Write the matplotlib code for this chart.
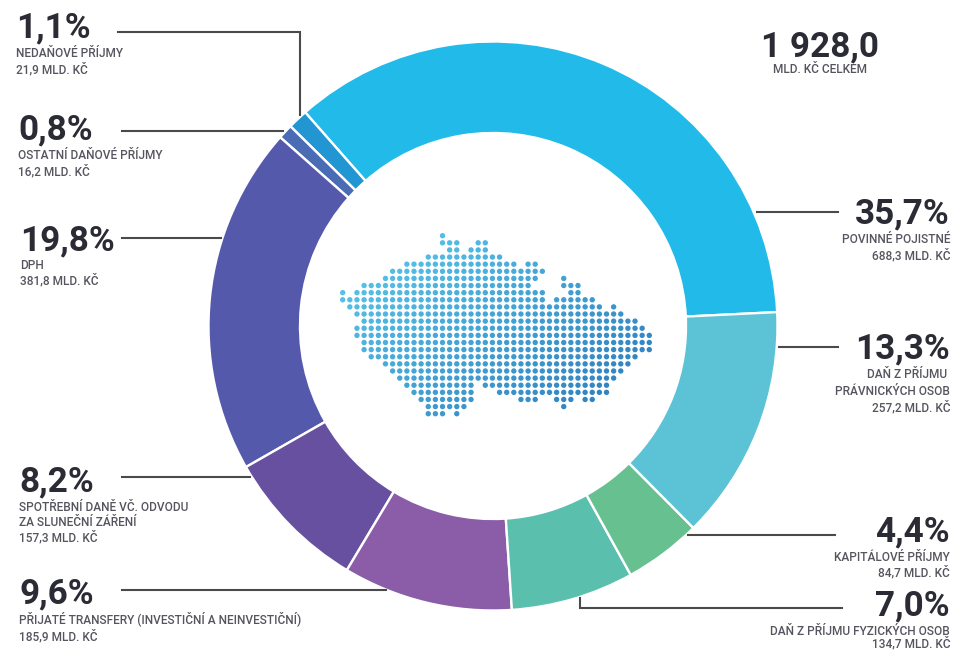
import matplotlib
matplotlib.use("Agg")
import matplotlib.pyplot as plt
import numpy as np

plt.rcParams['font.family'] = ['Roboto', 'DejaVu Sans']

W, H = 955, 650

# Data, counter-clockwise from the right-hand end of the largest slice
names = ["POVINNÉ POJISTNÉ", "NEDAŇOVÉ PŘÍJMY", "OSTATNÍ DAŇOVÉ PŘÍJMY", "DPH",
         "SPOTŘEBNÍ DANĚ VČ. ODVODU\nZA SLUNEČNÍ ZÁŘENÍ",
         "PŘIJATÉ TRANSFERY (INVESTIČNÍ A NEINVESTIČNÍ)",
         "DAŇ Z PŘÍJMU FYZICKÝCH OSOB", "KAPITÁLOVÉ PŘÍJMY",
         "DAŇ Z PŘÍJMU \nPRÁVNICKÝCH OSOB"]
values = [688.3, 21.9, 16.2, 381.8, 157.3, 185.9, 134.7, 84.7, 257.2]
percents = ["35,7%", "1,1%", "0,8%", "19,8%", "8,2%", "9,6%", "7,0%", "4,4%", "13,3%"]
amounts = ["688,3 MLD. KČ", "21,9 MLD. KČ", "16,2 MLD. KČ", "381,8 MLD. KČ", "157,3 MLD. KČ",
           "185,9 MLD. KČ", "134,7 MLD. KČ", "84,7 MLD. KČ", "257,2 MLD. KČ"]
colors = ["#22bbe9", "#2196d2", "#4a6cb5", "#5559ab", "#67509f",
          "#8b5da8", "#5bbfae", "#66c08f", "#5cc2d6"]

# Map of dots: for each row, the column spans that hold a dot
map_rows = [
    [(14, 14)], [(14, 16), (19, 20)], [(15, 16), (18, 20)], [(12, 22)],
    [(9, 24), (26, 27)], [(7, 28)], [(6, 27), (31, 31)], [(3, 26), (31, 33)],
    [(0, 0), (2, 28), (32, 33)], [(0, 28), (30, 35)], [(1, 36), (38, 38)], [(2, 39)],
    [(3, 41)], [(2, 42)], [(2, 43)], [(3, 43)], [(3, 43)], [(4, 41)], [(6, 40)],
    [(7, 39)], [(8, 38)], [(9, 18), (20, 37)], [(10, 18), (22, 37)],
    [(11, 18), (25, 27), (30, 32), (34, 35)], [(12, 17), (31, 31)], [(12, 14), (16, 16)],
]

fig = plt.figure(figsize=(W / 100, H / 100), dpi=100, facecolor="white")
ax = fig.add_axes([0, 0, 1, 1])


def Y(y):
    return H - y


cx, cy, R, r_in = 493, 326, 284.5, 193
ax.pie(values, colors=colors, startangle=2.8, counterclock=True, radius=R, center=(cx, Y(cy)),
       wedgeprops=dict(width=R - r_in, edgecolor="white", linewidth=1.7), frame=False)

# Dot map
start = np.array([0x5c, 0xcd, 0xee]) / 255
end = np.array([0x2a, 0x78, 0xbb]) / 255
xs, ys, cs = [], [], []
for i, spans in enumerate(map_rows):
    for a, b in spans:
        for k in range(a, b + 1):
            t = 0.55 * k / 43 + 0.45 * i / 25
            xs.append(342.7 + 7.13 * k)
            ys.append(Y(235.7 + 7.12 * i))
            cs.append(tuple(start + (end - start) * t))
ax.scatter(xs, ys, s=15, c=cs, linewidths=0, zorder=3)

# Leader lines
leaders = [
    ([118, 300, 300], [32, 32, 115]),
    ([122, 283], [131, 131]),
    ([122, 221], [238, 238]),
    ([122, 250], [477, 477]),
    ([122, 386], [590, 590]),
    ([757, 838], [212, 212]),
    ([779, 838], [347, 347]),
    ([688, 835], [534.5, 534.5]),
    ([579.5, 579.5, 842], [598, 607.5, 607.5]),
]
for lx, ly in leaders:
    ax.plot(lx, [Y(v) for v in ly], color="#4a4a4a", lw=1.5, solid_joinstyle="miter", zorder=4)

BIG = dict(fontsize=25.3, fontweight="bold", color="#2b2b35")
SMALL = dict(fontsize=8.6, fontweight="medium", color="#55555f")

# (percent baseline, x, align, sub-line centres)
labels = [
    (223, 950, "right", [239, 255]),
    (37, 16, "left", [53, 69]),
    (139, 18, "left", [155, 171]),
    (250, 20, "left", [265, 280]),
    (491, 19, "left", [507, 522, 537]),
    (603, 19, "left", [619, 636]),
    (615, 950, "right", [631, 643]),
    (541, 950, "right", [557, 572]),
    (358, 950, "right", [374, 391, 407]),
]
for name, pct, amt, (base, x, ha, rows) in zip(names, percents, amounts, labels):
    ax.text(x, Y(base), pct, ha=ha, va="baseline", **BIG)
    for line, yc in zip(name.split("\n") + [amt], rows):
        ax.text(x, Y(yc + 4), line, ha=ha, va="baseline", **SMALL)

ax.text(820, Y(56), "1 928,0", ha="center", va="baseline", **BIG)
ax.text(820, Y(73), "MLD. KČ CELKEM", ha="center", va="baseline", **SMALL)

ax.set_xlim(0, W)
ax.set_ylim(0, H)
ax.set_aspect("equal")
ax.axis("off")
fig.savefig("out.png", dpi=100, facecolor="white")
